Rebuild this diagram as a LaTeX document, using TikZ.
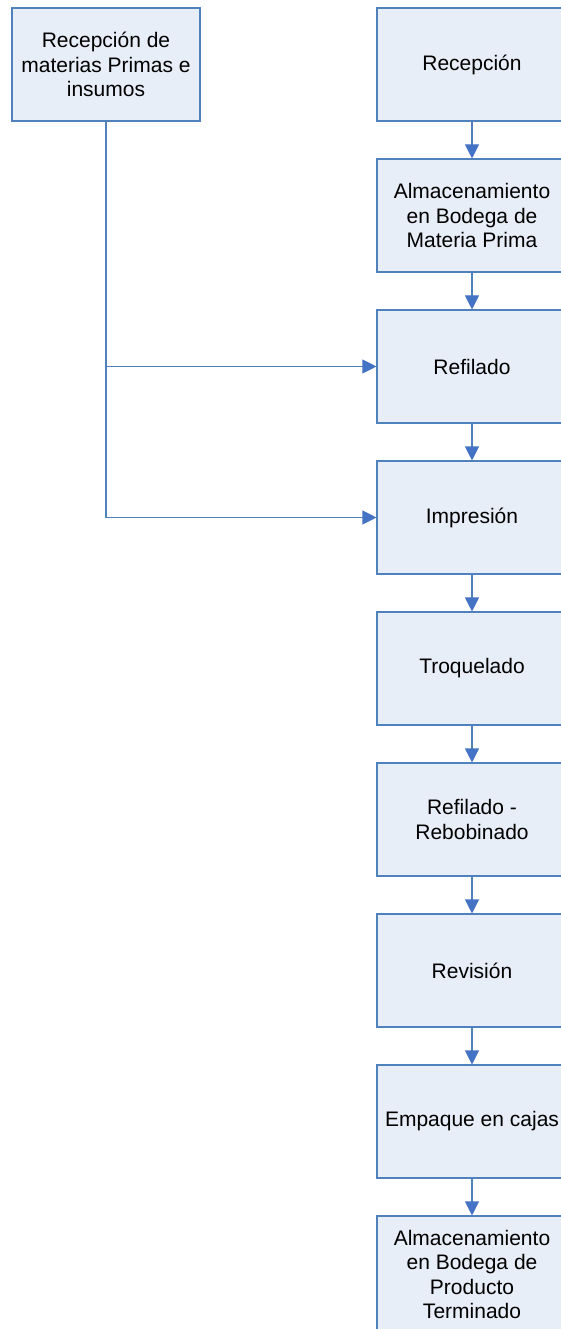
\documentclass[tikz,border=0pt]{standalone}
\usepackage{fontspec}
\setmainfont{Liberation Sans}
\usetikzlibrary{positioning,arrows.meta}
\definecolor{boxline}{RGB}{79,129,189}
\definecolor{boxfill}{RGB}{232,238,247}
\definecolor{tipfill}{RGB}{68,114,196}
\begin{document}
\begin{tikzpicture}[node distance=151pt, line width=1.1pt,
  -{Triangle[width=14pt,length=14pt,color=tipfill]}]
\tikzstyle{proc}=[rectangle,draw=boxline,fill=boxfill,text=black,
  minimum width=190pt,minimum height=113pt,inner sep=0pt,
  align=center,font=\fontsize{21pt}{24.5pt}\selectfont]
\useasboundingbox (0,0) rectangle (560pt,-1329pt);
\node[proc,minimum width=188pt] (ins) at (106pt,-64.5pt) {Recepción de\\materias Primas e\\insumos};
\node[proc] (rec) at (472pt,-64.5pt) {Recepción};
\node[proc] (amp) [below of=rec] {Almacenamiento\\en Bodega de\\Materia Prima};
\node[proc] (ref) [below of=amp] {Refilado};
\node[proc] (imp) [below of=ref] {Impresión};
\node[proc] (tro) [below of=imp] {Troquelado};
\node[proc] (reb) [below of=tro] {Refilado -\\Rebobinado};
\node[proc] (rev) [below of=reb] {Revisión};
\node[proc] (emp) [below of=rev] {Empaque en cajas};
\node[proc,minimum height=117pt,yshift=-2pt] (apt) [below of=emp] {Almacenamiento\\en Bodega de\\Producto\\Terminado};
\path[draw=boxline]
(rec) edge (amp)
(amp) edge (ref)
(ref) edge (imp)
(imp) edge (tro)
(tro) edge (reb)
(reb) edge (rev)
(rev) edge (emp)
(emp) edge (apt);
\draw[boxline] (ins.south) |- (ref.west);
\draw[boxline] (ins.south) |- (imp.west);
\end{tikzpicture}
\end{document}
